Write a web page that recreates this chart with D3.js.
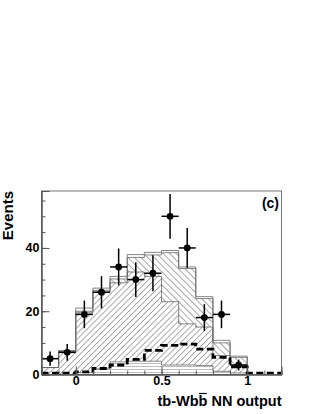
<!DOCTYPE html>
<html>
<head>
<meta charset="utf-8">
<script src="https://cdn.jsdelivr.net/npm/d3@7"></script>
<style>
html, body { margin: 0; padding: 0; background: #fff; }
svg text { font-family: "Liberation Sans", Arial, Helvetica, sans-serif; font-weight: bold; fill: #000; }
</style>
</head>
<body>
<div id="chart"></div>
<script>
//Bins del histograma (NN output)
const binEdges = [-0.2, -0.1, 0, 0.1, 0.2, 0.3, 0.4, 0.5, 0.6, 0.7, 0.8, 0.9, 1.0, 1.1, 1.2];

//Fondos apilados (de abajo hacia arriba)
const bkgLines = [0, 0, 0.6, 1.8, 4.0, 4.2, 4.2, 3.0, 3.0, 2.8, 1.0, 0.5, 0, 0];
const bkgFwd   = [2.2, 7.3, 18.9, 24.2, 25.0, 28.2, 26.8, 20.0, 13.0, 12.2, 5.0, 2.5, 0, 0];
const bkgBack  = [0, 0, 0.5, 0.6, 1.2, 4.6, 6.8, 15.5, 17.5, 9.0, 4.0, 2.4, 0, 0];
const bkgOpen  = [0, 0.3, 1.0, 0.7, 0.8, 0.9, 0.8, 0.7, 0.5, 0.6, 0.8, 0.4, 0, 0];

//Señal (línea discontinua)
const signal = [0.4, 0.4, 0.8, 1.9, 3.0, 4.8, 7.6, 9.2, 9.6, 8.0, 5.4, 2.4, 0.4, 0.4];

//Datos
const dataX = [-0.15, -0.05, 0.05, 0.15, 0.25, 0.35, 0.45, 0.55, 0.65, 0.75, 0.85, 0.95];
const dataN = [5, 7, 19, 26, 34, 30, 32, 50, 40, 18, 19, 3];

//Ejes
const yTicks = [0, 20, 40];
const yMinor = [0, 5, 10, 15, 20, 25, 30, 35, 40, 45, 50, 55];
const xTicks = [0, 0.5, 1];

const W = 320, H = 414;
const pLeft = 41.5, pRight = 281.5, pTop = 191, pBottom = 374.5;

let svg = d3.select('#chart').append('svg')
    .attr('width', W)
    .attr('height', H);

let x = d3.scaleLinear().domain([-0.2, 1.2]).range([pLeft, pRight]);
let y = d3.scaleLinear().domain([0, 58]).range([pBottom, pTop]);

//Patrones de rayado
let defs = svg.append('defs');
function hatch(id, angle, size, width) {
    let p = defs.append('pattern')
        .attr('id', id)
        .attr('patternUnits', 'userSpaceOnUse')
        .attr('width', size)
        .attr('height', size)
        .attr('patternTransform', 'rotate(' + angle + ')');
    p.append('rect').attr('width', size).attr('height', size).attr('fill', '#fff');
    p.append('line')
        .attr('x1', 0).attr('y1', 0).attr('x2', 0).attr('y2', size)
        .attr('stroke', '#222')
        .attr('stroke-width', width);
}
hatch('hFwd', 45, 4.2, 0.75);
hatch('hBack', -45, 4.6, 0.75);
hatch('hLines', 90, 3, 0.6);

//Stack
let rows = binEdges.slice(0, -1).map(function(e, i) {
    return { e: e, lines: bkgLines[i], fwd: bkgFwd[i], back: bkgBack[i], open: bkgOpen[i] };
});
let keys = ['lines', 'fwd', 'back', 'open'];
let fills = { lines: 'url(#hLines)', fwd: 'url(#hFwd)', back: 'url(#hBack)', open: '#fff' };
let stacked = d3.stack().keys(keys)(rows);

function withEnd(series) {
    let pts = series.map(function(d, i) { return { e: binEdges[i], y0: d[0], y1: d[1] }; });
    let last = pts[pts.length - 1];
    pts.push({ e: binEdges[binEdges.length - 1], y0: last.y0, y1: last.y1 });
    return pts;
}

let area = d3.area()
    .x(function(d) { return x(d.e); })
    .y0(function(d) { return y(d.y0); })
    .y1(function(d) { return y(d.y1); })
    .curve(d3.curveStepAfter);

let topLine = d3.line()
    .x(function(d) { return x(d.e); })
    .y(function(d) { return y(d.y1); })
    .curve(d3.curveStepAfter);

let plot = svg.append('g');

stacked.forEach(function(s) {
    plot.append('path')
        .attr('d', area(withEnd(s)))
        .attr('fill', fills[s.key])
        .attr('stroke', 'none');
});
stacked.forEach(function(s) {
    plot.append('path')
        .attr('d', topLine(withEnd(s)))
        .attr('fill', 'none')
        .attr('stroke', '#666')
        .attr('stroke-width', 0.8);
});

//Señal
let sigPts = signal.map(function(v, i) { return { e: binEdges[i], y1: v }; });
sigPts.push({ e: binEdges[binEdges.length - 1], y1: signal[signal.length - 1] });
plot.append('path')
    .attr('d', topLine(sigPts))
    .attr('fill', 'none')
    .attr('stroke', '#000')
    .attr('stroke-width', 2.8)
    .attr('stroke-dasharray', '7,3.5');

//Puntos de datos con errores
let pts = plot.selectAll('g.pt')
    .data(dataX.map(function(v, i) { return { x: v, n: dataN[i] }; }))
    .enter().append('g');

pts.append('line')
    .attr('x1', function(d) { return x(d.x); })
    .attr('x2', function(d) { return x(d.x); })
    .attr('y1', function(d) { return y(d.n + Math.sqrt(d.n)); })
    .attr('y2', function(d) { return y(Math.max(0, d.n - Math.sqrt(d.n))); })
    .attr('stroke', '#000').attr('stroke-width', 1.5);
pts.append('line')
    .attr('x1', function(d) { return x(d.x - 0.05); })
    .attr('x2', function(d) { return x(d.x + 0.05); })
    .attr('y1', function(d) { return y(d.n); })
    .attr('y2', function(d) { return y(d.n); })
    .attr('stroke', '#000').attr('stroke-width', 1.5);
pts.append('circle')
    .attr('cx', function(d) { return x(d.x); })
    .attr('cy', function(d) { return y(d.n); })
    .attr('r', 3.4)
    .attr('fill', '#000');

//Marco
svg.append('rect')
    .attr('x', pLeft).attr('y', pTop)
    .attr('width', pRight - pLeft).attr('height', pBottom - pTop)
    .attr('fill', 'none')
    .attr('stroke', '#777')
    .attr('stroke-width', 1);

//Eje Y
let yMin = svg.append('g').attr('transform', 'translate(' + pLeft + ',0)')
    .call(d3.axisLeft(y).tickValues(yMinor).tickSize(-4).tickFormat(''));
let yMaj = svg.append('g').attr('transform', 'translate(' + pLeft + ',0)')
    .call(d3.axisLeft(y).tickValues(yTicks).tickSize(-8).tickPadding(2).tickFormat(d3.format('d')));

//Eje X
let xMin = svg.append('g').attr('transform', 'translate(0,' + pBottom + ')')
    .call(d3.axisBottom(x).tickValues(binEdges.slice(1, -1)).tickSize(-4).tickFormat(''));
let xMaj = svg.append('g').attr('transform', 'translate(0,' + pBottom + ')')
    .call(d3.axisBottom(x).tickValues(xTicks).tickSize(-8).tickPadding(2).tickFormat(d3.format('')));

[yMin, yMaj, xMin, xMaj].forEach(function(g) {
    g.select('.domain').attr('stroke', '#555');
    g.selectAll('.tick line').attr('stroke', '#555');
    g.selectAll('text').style('font-size', '12.5px').attr('fill', '#000');
});

//Títulos
svg.append('text')
    .attr('transform', 'translate(13,' + pTop + ') rotate(-90)')
    .attr('text-anchor', 'end')
    .style('font-size', '15px')
    .text('Events');

let xTitle = svg.append('text')
    .attr('x', pRight)
    .attr('y', 405.5)
    .attr('text-anchor', 'end')
    .style('font-size', '14.5px')
    .text('tb-Wbb NN output');

//Barra sobre la segunda b
let n0 = xTitle.node();
let s = n0.getStartPositionOfChar(5), en = n0.getEndPositionOfChar(5);
svg.append('line')
    .attr('x1', s.x + 0.5).attr('x2', en.x - 0.5)
    .attr('y1', 393.5).attr('y2', 393.5)
    .attr('stroke', '#000').attr('stroke-width', 1.2);

svg.append('text')
    .attr('x', 279)
    .attr('y', 207.5)
    .attr('text-anchor', 'end')
    .style('font-size', '14px')
    .text('(c)');
</script>
</body>
</html>
